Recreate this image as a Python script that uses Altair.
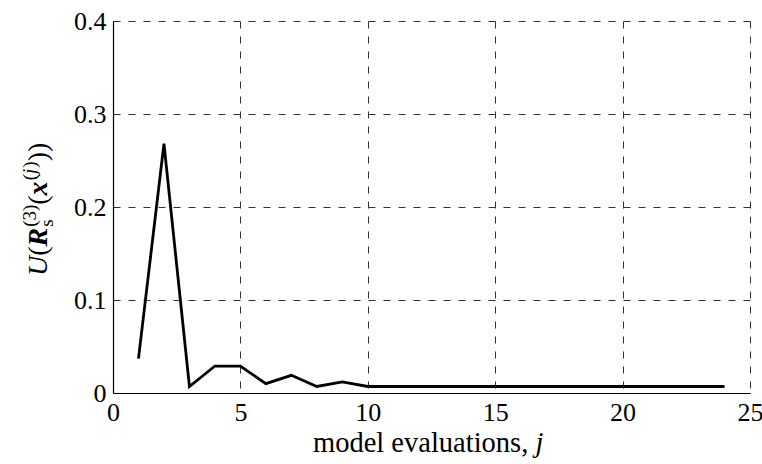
import altair as alt
import pandas as pd

evals = list(range(1, 25))
u_values = [0.037, 0.268, 0.007, 0.029, 0.029, 0.010, 0.019, 0.007, 0.012,
            0.007, 0.007, 0.007, 0.007, 0.007, 0.007, 0.007, 0.007, 0.007,
            0.007, 0.007, 0.007, 0.007, 0.007, 0.007]
x_ticks = [0, 5, 10, 15, 20, 25]
y_ticks = [0, 0.1, 0.2, 0.3, 0.4]

df = pd.DataFrame({"j": evals, "U": u_values})

FONT = "Liberation Serif"
W, H = 637, 372
MAIN, SMALL = 28, 19

line = alt.Chart(df).mark_line(color="black", strokeWidth=2.8, strokeJoin="miter").encode(
    x=alt.X("j:Q", scale=alt.Scale(domain=[0, 25], nice=False),
            axis=alt.Axis(values=x_ticks, title=None, labelFont=FONT,
                          labelPadding=6, format="d")),
    y=alt.Y("U:Q", scale=alt.Scale(domain=[0, 0.4], nice=False),
            axis=alt.Axis(values=y_ticks, title=None, labelFont=FONT,
                          labelPadding=7,
                          labelExpr="datum.value == 0 ? '0' : format(datum.value, '.1f')")),
)


def piece(txt, x, y, size, style="normal", weight="normal", angle=0):
    return alt.Chart(pd.DataFrame({"t": [txt]})).mark_text(
        font=FONT, fontSize=size, fontStyle=style, fontWeight=weight,
        align="left", baseline="alphabetic", angle=angle, color="black",
    ).encode(text="t:N", x=alt.value(x), y=alt.value(y))


# x-axis title: "model evaluations, j"
xt_base = 452 - 21
xt_start = 313 - 113
xt_size = 28.5
x_title = [
    piece("model evaluations,", xt_start, xt_base, xt_size),
    piece("j", xt_start + 7.805 * xt_size, xt_base, xt_size, style="italic"),
]

# y-axis title: U(R_s^(3)(x^(j))) — rotated, reading bottom to top
bx = 47 - 113          # baseline of main text
sub_x = bx + 6         # baseline of subscript
sup_x = bx - 11        # baseline of superscript
y0 = 276 - 21
segs = []
pos = y0


def add(txt, width_em, size, xb, style="normal", weight="normal", advance=True):
    global pos
    segs.append(piece(txt, xb, pos, size, style, weight, angle=270))
    if advance:
        pos -= width_em * size


add("U", 0.722, MAIN, bx, style="italic")
add("(", 0.333, MAIN, bx)
add("R", 0.70, MAIN, bx, style="italic", weight="bold")
add("s", 0.389, SMALL, sub_x, advance=False)
add("(3)", 1.166, SMALL, sup_x)
add("(", 0.333, MAIN, bx)
add("x", 0.54, MAIN, bx, style="italic", weight="bold")
add("(", 0.333, SMALL, sup_x)
add("j", 0.33, SMALL, sup_x, style="italic")
add(")", 0.333, SMALL, sup_x)
add("))", 0.666, MAIN, bx)

chart = alt.layer(line, *x_title, *segs).properties(
    width=W, height=H,
    background="white",
    autosize=alt.AutoSizeParams(type="none"),
    padding={"left": 113, "top": 21, "right": 12, "bottom": 71},
).configure_axis(
    labelFont=FONT, titleFont=FONT, labelFontSize=26, titleFontSize=28,
    titleFontWeight="normal", labelColor="black", titleColor="black",
    domainColor="black", domainWidth=1.2, ticks=False,
    grid=True, gridColor="#333333", gridDash=[7, 8], gridWidth=1,
    gridOpacity=1, labelFlush=False,
).configure_view(stroke=None)

chart.save("out.html", embed_options={"renderer": "svg", "actions": False})
